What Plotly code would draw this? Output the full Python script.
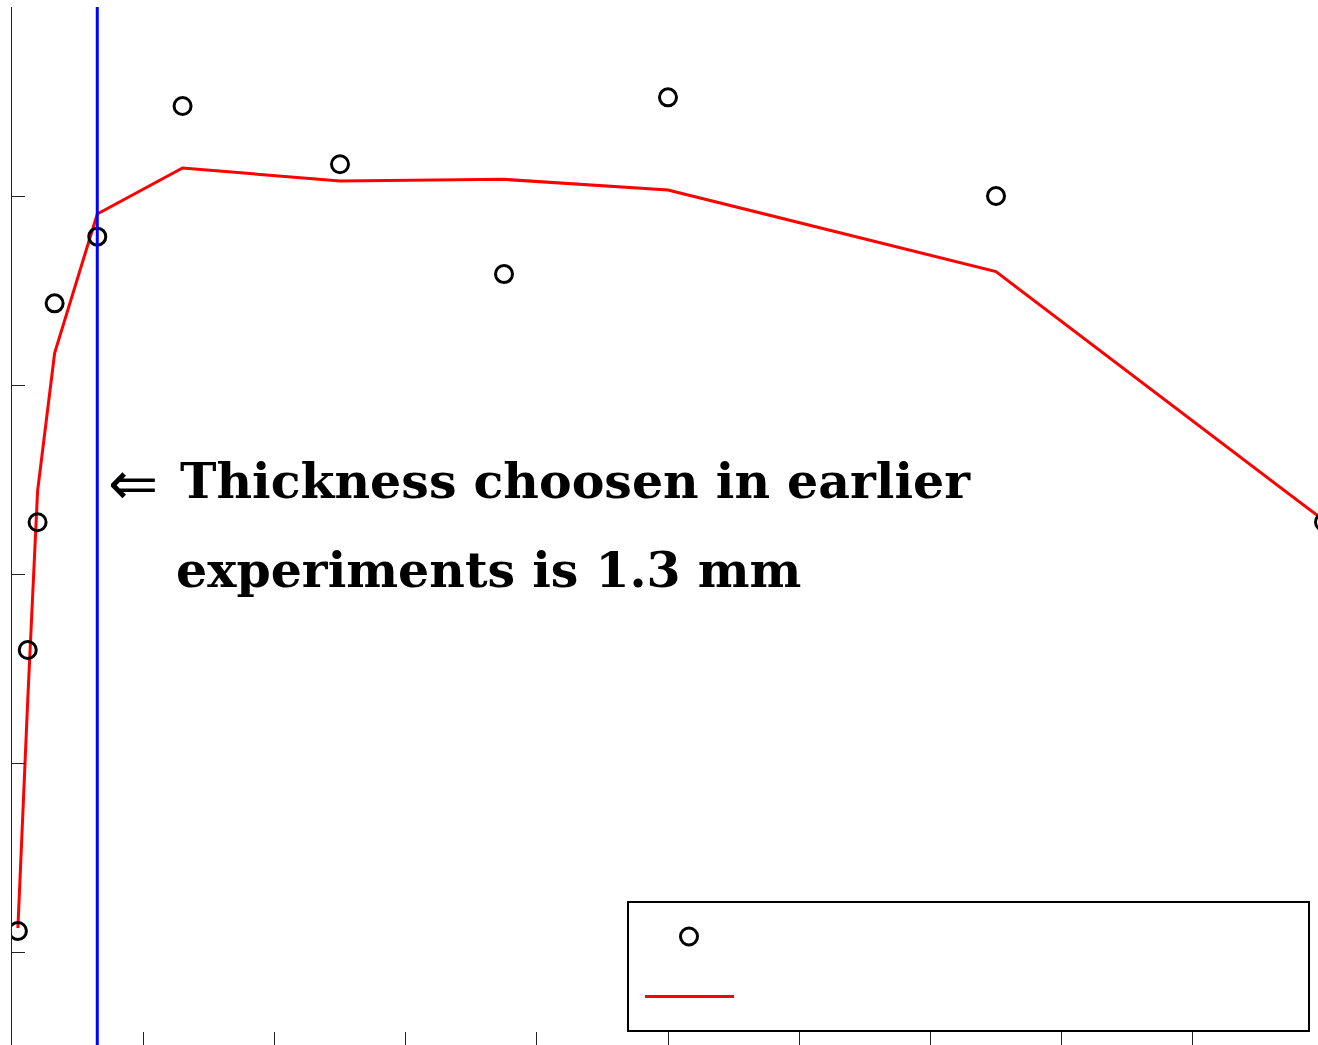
import plotly.graph_objects as go

# Measured samples: thickness (mm) vs. response
thickness_mm = [0.09, 0.24, 0.39, 0.65, 1.3, 2.6, 5.0, 7.5, 10.0, 15.0, 20.0]
measured = [11.11, 25.98, 32.74, 44.32, 47.85, 54.76, 51.68, 45.87, 55.22, 50.0, 32.75]

# Smoothed fit evaluated at the same thicknesses
fitted = [11.27, 23.33, 34.39, 41.69, 49.05, 51.48, 50.79, 50.88, 50.32, 46.0, 32.83]

chosen_thickness = 1.3

x_ticks = [0, 2, 4, 6, 8, 10, 12, 14, 16, 18]
y_ticks = [10, 20, 30, 40, 50, 60]

W, H = 1318, 1045
ML, MR, MT, MB = 12, 0, 7, 0
PW, PH = W - ML - MR, H - MT - MB


def px(xp):
    return (xp - ML) / PW


def py(yp):
    return (H - MB - yp) / PH


fig = go.Figure()

fig.add_trace(go.Scatter(
    x=thickness_mm, y=fitted, mode="lines",
    line=dict(color="#ff0000", width=3),
    showlegend=False,
))
fig.add_trace(go.Scatter(
    x=thickness_mm, y=measured, mode="markers",
    marker=dict(symbol="circle-open", size=17, color="black",
                line=dict(color="black", width=3)),
    showlegend=False,
))

fig.add_vline(x=chosen_thickness, line=dict(color="#0000ff", width=3))

# Legend frame with sample marker and line
fig.add_shape(type="rect", xref="paper", yref="paper",
              x0=px(628), x1=px(1309), y0=py(1031), y1=py(902),
              line=dict(color="black", width=2), fillcolor="white", layer="above")
fig.add_shape(type="circle", xref="paper", yref="paper",
              xsizemode="pixel", ysizemode="pixel",
              xanchor=px(689), yanchor=py(936.5),
              x0=-8.5, x1=8.5, y0=-8.5, y1=8.5,
              line=dict(color="black", width=3), layer="above")
fig.add_shape(type="line", xref="paper", yref="paper",
              x0=px(645), x1=px(734), y0=py(996.5), y1=py(996.5),
              line=dict(color="#ff0000", width=3), layer="above")

text_font = dict(family="DejaVu Serif", size=49, color="black", weight="bold")
fig.add_annotation(xref="paper", yref="paper", x=px(106), y=py(483),
                   xanchor="left", yanchor="middle", showarrow=False,
                   text="\u21d0", font=dict(family="DejaVu Sans", size=60, color="black"))
fig.add_annotation(xref="paper", yref="paper", x=px(178), y=py(481),
                   xanchor="left", yanchor="middle", showarrow=False,
                   text="Thickness choosen in earlier", font=text_font)
fig.add_annotation(xref="paper", yref="paper", x=px(174), y=py(570),
                   xanchor="left", yanchor="middle", showarrow=False,
                   text="experiments is 1.3 mm", font=text_font)

fig.update_layout(
    width=W, height=H,
    margin=dict(l=ML, r=MR, t=MT, b=MB),
    paper_bgcolor="white", plot_bgcolor="white",
    showlegend=False,
)
fig.update_xaxes(
    range=[0, PW / 65.6], tickvals=x_ticks, showticklabels=False,
    ticks="inside", ticklen=13, tickwidth=1, tickcolor="#222",
    showline=False, showgrid=False, zeroline=False,
)
fig.update_yaxes(
    range=[10 - (H - MB - 952) / 18.9, 60], tickvals=y_ticks, showticklabels=False,
    ticks="inside", ticklen=13, tickwidth=1, tickcolor="#222",
    showline=True, linecolor="#222", linewidth=1,
    showgrid=False, zeroline=False,
)

fig.write_html("out.html")
